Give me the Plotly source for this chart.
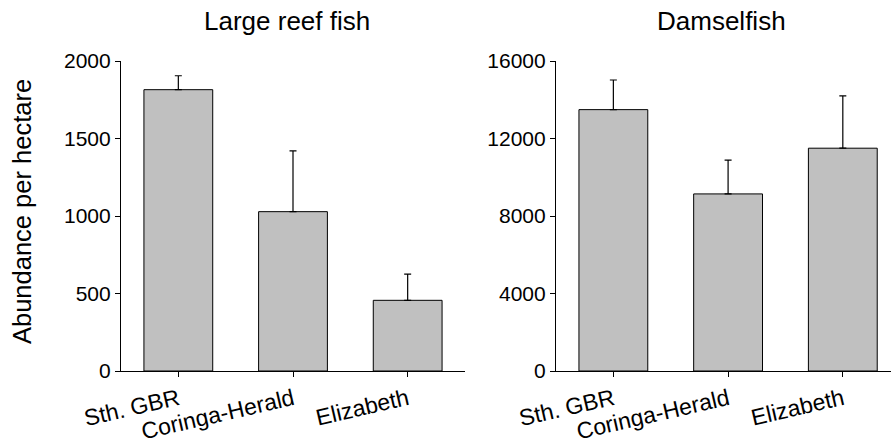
import plotly.graph_objects as go

# Sites and survey results (mean abundance per hectare, upper SE)
sites = ["Sth. GBR", "Coringa-Herald", "Elizabeth"]

reef_fish_mean = [1815, 1028, 456]
reef_fish_se = [90, 392, 169]

damselfish_mean = [13490, 9140, 11500]
damselfish_se = [1530, 1740, 2700]

panel_titles = ["Large reef fish", "Damselfish"]
reef_ticks = [0, 500, 1000, 1500, 2000]
damsel_ticks = [0, 4000, 8000, 12000, 16000]

W, H = 891, 443
FONT = "Liberation Sans, Arial, sans-serif"
BAR_FILL = "#c0c0c0"

fig = go.Figure()


def add_panel(means, ses, xa, ya):
    fig.add_trace(go.Bar(
        x=list(range(len(sites))),
        y=means,
        width=0.6,
        marker=dict(color=BAR_FILL, line=dict(color="#000000", width=1)),
        error_y=dict(type="data", array=ses, symmetric=False,
                     arrayminus=[0] * len(ses), color="#000000",
                     thickness=1.2, width=3.5),
        xaxis=xa, yaxis=ya, showlegend=False,
    ))


add_panel(reef_fish_mean, reef_fish_se, "x", "y")
add_panel(damselfish_mean, damselfish_se, "x2", "y2")

y_dom = [(H - 371) / H, (H - 61) / H]

common_x = dict(
    tickmode="array", tickvals=list(range(len(sites))), ticktext=sites,
    tickangle=-13, ticks="outside", ticklen=5, tickwidth=1, tickcolor="#000",
    showline=True, linecolor="#000", linewidth=1.2, showgrid=False,
    zeroline=False, automargin=False,
    tickfont=dict(family=FONT, size=23, color="#000"),
)
common_y = dict(
    tickmode="array", ticks="outside", ticklen=5, tickwidth=1, tickcolor="#000",
    showline=True, linecolor="#000", linewidth=1.2, showgrid=False,
    zeroline=False, automargin=False,
    tickfont=dict(family=FONT, size=21, color="#000"),
    domain=y_dom,
)

fig.update_layout(
    template="none",
    width=W, height=H,
    margin=dict(l=0, r=0, t=0, b=0, autoexpand=False),
    paper_bgcolor="white", plot_bgcolor="white",
    bargap=0.4,
    xaxis=dict(common_x, domain=[121 / W, 465 / W], range=[-0.5, 2.5], anchor="y"),
    yaxis=dict(common_y, range=[0, 2000], tickvals=reef_ticks,
               ticktext=[str(v) for v in reef_ticks], anchor="x"),
    xaxis2=dict(common_x, domain=[556 / W, 1.0], range=[-0.5, 2.42], anchor="y2"),
    yaxis2=dict(common_y, range=[0, 16000], tickvals=damsel_ticks,
                ticktext=[str(v) for v in damsel_ticks], anchor="x2"),
)

# Panel titles
for title, xc in zip(panel_titles, [287, 721]):
    fig.add_annotation(
        text=title, x=xc / W, y=(H - 21) / H, xref="paper", yref="paper",
        xanchor="center", yanchor="middle", showarrow=False,
        font=dict(family=FONT, size=26, color="#000"),
    )

# Shared y-axis title
fig.add_annotation(
    text="Abundance per hectare", x=22 / W, y=(H - 212) / H,
    xref="paper", yref="paper", xanchor="center", yanchor="middle",
    textangle=-90, showarrow=False,
    font=dict(family=FONT, size=25.5, color="#000"),
)

fig.write_html("out.html")
